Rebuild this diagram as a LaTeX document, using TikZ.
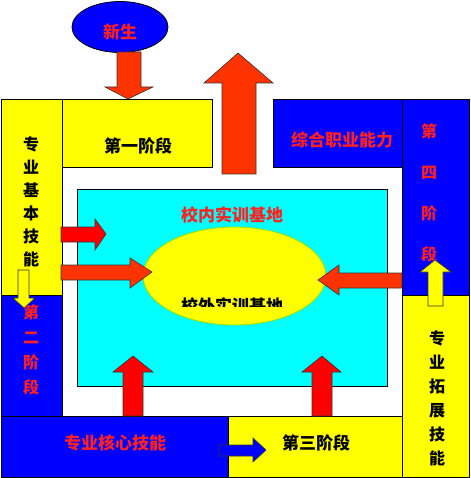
\documentclass[tikz,border=0pt]{standalone}
\usepackage{fontspec}
\newfontfamily\cjk{Noto Sans CJK SC}
\definecolor{arrowred}{HTML}{FF3300}
\definecolor{textred}{HTML}{FF2020}
\definecolor{basecyan}{HTML}{00FFFF}
\definecolor{stageyellow}{HTML}{FFFF00}
\definecolor{stageblue}{HTML}{0000FF}
\definecolor{purered}{HTML}{FF0000}
\definecolor{rimgreen}{HTML}{99DD00}
\begin{document}
\begin{tikzpicture}[
    x=1pt, y=-1pt,
    stagebox/.style={draw=black, line width=0.8pt},
    yellowbox/.style={stagebox, fill=stageyellow},
    bluebox/.style={stagebox, fill=stageblue},
    blockarrow/.style={draw=black!80, line width=0.6pt},
    lbl/.style={font=\cjk\bfseries\fontsize{17}{17}\selectfont, inner sep=0pt},
    vlbl/.style={inner sep=0pt, align=center},
  ]

\useasboundingbox[fill=white] (0,0) rectangle (470,478);

% Campus training base in the middle
\draw[black, line width=0.8pt, fill=basecyan] (77,189) rectangle (387,386);
\draw[rimgreen, line width=0.8pt, fill=stageyellow] (234.5,276) ellipse [x radius=91.5, y radius=49];
\node[lbl, textred] (innerbase) at (232,215) {校内实训基地};
\begin{scope}
  \clip (140,290) rectangle (330,306);
  \node[lbl, black] (outerbase) at (232,306) {校外实训基地};
\end{scope}

% The four stages round the base
\draw[yellowbox] (1,99) rectangle (62,295);
\draw[yellowbox] (62,99) rectangle (212,167);
\draw[bluebox] (273,99) rectangle (402,167);
\draw[bluebox] (402,99) rectangle (469,295);
\draw[yellowbox] (402,295) rectangle (469,477);
\draw[bluebox] (1,295) rectangle (62,416);
\draw[bluebox] (1,416) rectangle (228,477);
\draw[yellowbox] (228,416) rectangle (402,477);

\node[lbl, black] (stageone) at (138,146) {第一阶段};
\node[lbl, textred] (ability) at (342,140) {综合职业能力};
\node[lbl, textred] (core) at (115,443) {专业核心技能};
\node[lbl, black] (stagethree) at (316,443) {第三阶段};
\node[vlbl, black, font=\cjk\bfseries\fontsize{16}{23}\selectfont] (basic) at (31,202)
  {专\\业\\基\\本\\技\\能};
\node[vlbl, textred, font=\cjk\bfseries\fontsize{16}{25}\selectfont] (stagetwo) at (31,350)
  {第\\二\\阶\\段};
\node[vlbl, textred, font=\cjk\bfseries\fontsize{16}{41}\selectfont] (stagefour) at (429,193)
  {第\\四\\阶\\段};
\node[vlbl, black, font=\cjk\bfseries\fontsize{16}{24}\selectfont] (extended) at (437,398)
  {专\\业\\拓\\展\\技\\能};

% Freshmen enter at the top
\draw[black, line width=0.8pt, fill=stageblue] (120,27) ellipse [x radius=48, y radius=25.5];
\node[lbl, textred] (freshman) at (120,32) {新生};

% Block arrows
\draw[blockarrow, fill=arrowred] (117,52) -- (141,52) -- (141,87) -- (153,87)
  -- (128,99) -- (105,87) -- (117,87) -- cycle;
\draw[blockarrow, fill=arrowred] (222,174) -- (256,174) -- (256,83) -- (273,83)
  -- (238,53) -- (204,83) -- (222,83) -- cycle;
\draw[blockarrow, fill=purered] (61,227) -- (95,227) -- (95,219) -- (106,234)
  -- (95,250) -- (95,242) -- (61,242) -- cycle;
\draw[blockarrow, fill=arrowred] (61,265) -- (130,265) -- (130,258) -- (152,272)
  -- (130,288) -- (130,280) -- (61,280) -- cycle;
\draw[blockarrow, fill=arrowred] (402,273) -- (339,273) -- (339,265) -- (318,280)
  -- (339,295) -- (339,288) -- (402,288) -- cycle;
\draw[blockarrow, fill=purered] (123,416) -- (143,416) -- (143,372) -- (153,372)
  -- (133,356) -- (113,372) -- (123,372) -- cycle;
\draw[blockarrow, fill=purered] (312,416) -- (332,416) -- (332,372) -- (341,372)
  -- (322,356) -- (302,372) -- (312,372) -- cycle;
\draw[blockarrow, fill=stageyellow] (18,270) -- (29,270) -- (29,298) -- (35,298)
  -- (24,308) -- (13,298) -- (18,298) -- cycle;
\draw[blockarrow, fill=stageyellow] (428,306) -- (443,306) -- (443,272) -- (451,272)
  -- (435,260) -- (420,272) -- (428,272) -- cycle;
\draw[blockarrow, fill=stageblue] (219,445) -- (253,445) -- (253,438) -- (266,450)
  -- (253,462) -- (253,456) -- (219,456) -- cycle;

\end{tikzpicture}
\end{document}
